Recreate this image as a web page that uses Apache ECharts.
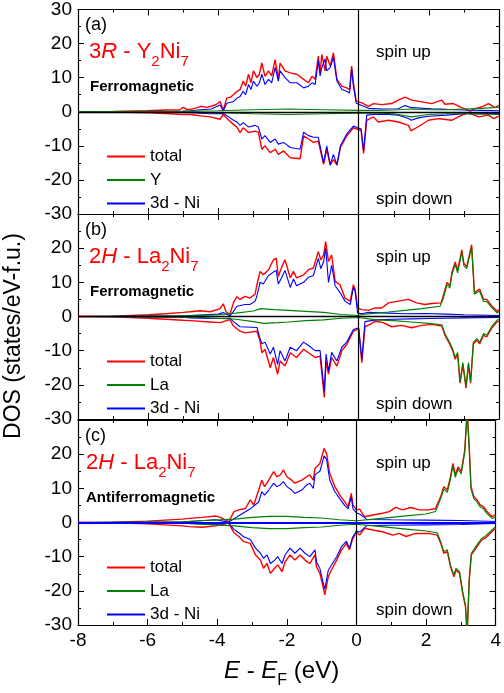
<!DOCTYPE html>
<html>
<head>
<meta charset="utf-8">
<script src="https://cdn.jsdelivr.net/npm/echarts@6/dist/echarts.min.js"></script>
<style>
  html, body { margin: 0; padding: 0; background: #fff; }
  #chart { width: 504px; height: 693px; }
</style>
</head>
<body>
<div id="chart"></div>
<script>
// energy ticks / DOS ticks
const xTicks = [-8, -6, -4, -2, 0, 2, 4]
const yTicks = [-30, -20, -10, 0, 10, 20, 30]

// panel (a) 3R-Y2Ni7 ferromagnetic, [E, DOS]
const aTotUp = [[-8,0],[-7,0.1],[-6,0.3],[-5.5,0.5],[-5.1,0.6],[-5.0,1.3],[-4.9,0.7],[-4.8,0.7],[-4.6,1.2],[-4.5,1.6],[-4.35,1.3],[-4.2,1.6],[-4.05,2.2],[-3.95,3],[-3.86,0.5],[-3.76,4],[-3.65,4.3],[-3.57,5],[-3.47,6],[-3.38,6.5],[-3.29,9],[-3.22,7.5],[-3.14,11],[-3.07,8.5],[-3.0,12],[-2.9,10],[-2.83,11],[-2.76,14.3],[-2.67,10.4],[-2.57,12],[-2.48,10.5],[-2.38,15.3],[-2.29,9.5],[-2.24,14.3],[-2.1,12],[-1.95,11.4],[-1.76,11],[-1.57,9.5],[-1.43,8.5],[-1.33,10.4],[-1.24,9.5],[-1.15,16.3],[-1.1,11.4],[-1.05,16.8],[-0.96,12],[-0.91,16.3],[-0.81,13.4],[-0.72,17.3],[-0.62,9.5],[-0.48,7.5],[-0.34,7],[-0.26,6.5],[-0.2,13.4],[-0.15,8.5],[-0.07,3.1],[0.09,2.6],[0.28,1.6],[0.42,2.4],[0.66,2.1],[0.94,2.4],[1.13,3.4],[1.32,4.3],[1.51,3.4],[1.8,2.9],[2.08,2.4],[2.37,3.4],[2.46,2.2],[2.7,2.4],[2.94,1.2],[3.18,0.2],[3.32,0.9],[3.51,1.4],[3.7,2.4],[3.89,1.2],[4,1.9]]
const aTotDn = [[-8,0],[-7,-0.1],[-6,-0.3],[-5.5,-0.5],[-5.0,-0.8],[-4.8,-0.8],[-4.5,-1.2],[-4.23,-1.5],[-3.95,-2.2],[-3.86,-0.8],[-3.7,-2.5],[-3.57,-3.7],[-3.47,-4.5],[-3.38,-6.1],[-3.29,-4.7],[-3.14,-6.1],[-2.95,-5.7],[-2.86,-6],[-2.76,-11],[-2.67,-10],[-2.52,-12],[-2.38,-11],[-2.29,-12.5],[-2.14,-11.5],[-1.95,-13.5],[-1.67,-13.8],[-1.57,-7.1],[-1.43,-8],[-1.29,-9],[-1.15,-8.6],[-1.0,-15.4],[-0.91,-11],[-0.81,-15.7],[-0.72,-14],[-0.62,-15.7],[-0.52,-10.5],[-0.34,-7.1],[-0.15,-4.7],[0,-5.2],[0.07,-5.5],[0.14,-12.2],[0.23,-2.5],[0.42,-1.5],[0.56,-3],[0.85,-2.5],[1.13,-3],[1.42,-4],[1.49,-5.6],[1.7,-4.4],[1.99,-2.5],[2.27,-2],[2.65,-2.5],[2.94,-1],[3.13,-0.3],[3.42,-1.5],[3.7,-1],[3.85,-2],[4,-1.3]]
const aNiUp = [[-8,0],[-6,0.1],[-5,0.2],[-4.8,0.3],[-4.5,0.6],[-4.2,0.8],[-3.95,2],[-3.86,0.2],[-3.76,2.5],[-3.57,3],[-3.47,4],[-3.38,4.5],[-3.29,6],[-3.22,5],[-3.14,8],[-3.07,6.5],[-3.0,9],[-2.9,7.5],[-2.83,8.5],[-2.76,11],[-2.67,8],[-2.57,9.5],[-2.48,8.5],[-2.38,13],[-2.29,9],[-2.24,12],[-2.1,10],[-1.95,8.5],[-1.76,8.5],[-1.57,7],[-1.43,7.5],[-1.33,8.5],[-1.24,8],[-1.15,15],[-1.1,10.5],[-1.05,13],[-0.96,15.5],[-0.91,12],[-0.81,13],[-0.72,16],[-0.62,9],[-0.48,6.5],[-0.34,6],[-0.26,5.5],[-0.2,12.5],[-0.15,7.5],[-0.07,2.5],[0.09,1.8],[0.28,1.0],[0.66,0.8],[1.13,0.9],[1.32,1.8],[1.51,1.2],[2.08,0.9],[2.5,0.7],[3.0,0.5],[3.5,0.4],[4,0.3]]
const aNiDn = [[-8,0],[-6,-0.1],[-5,-0.2],[-4.8,-0.3],[-4.23,-0.6],[-3.86,-0.5],[-3.7,-1.5],[-3.57,-2.5],[-3.47,-3],[-3.38,-4],[-3.29,-3.2],[-3.14,-4.5],[-2.95,-4],[-2.86,-4.5],[-2.76,-8],[-2.67,-7],[-2.52,-9],[-2.38,-8],[-2.29,-9.5],[-2.14,-9],[-1.95,-10.5],[-1.67,-11],[-1.57,-6],[-1.43,-7],[-1.29,-7.5],[-1.15,-7.5],[-1.0,-15],[-0.91,-10],[-0.81,-15.5],[-0.72,-12.5],[-0.62,-15.5],[-0.52,-10],[-0.34,-6.5],[-0.15,-4.2],[0,-4.8],[0.07,-5],[0.14,-11.5],[0.23,-1.0],[0.42,-0.8],[0.85,-0.8],[1.13,-1],[1.42,-2],[1.5,-2.5],[1.7,-1.8],[2.0,-1.3],[2.5,-1.0],[3.0,-0.6],[3.5,-0.5],[4,-0.5]]
const aYUp = [[-8,0],[-5,0.1],[-4,0.3],[-3,0.6],[-2,0.8],[-1,0.6],[0,0.4],[0.5,0.4],[1,0.5],[1.5,0.8],[2,0.6],[2.5,0.6],[3,0.8],[3.5,1.0],[4,1.3]]
const aYDn = [[-8,0],[-5,-0.1],[-4,-0.3],[-3,-0.6],[-2,-0.8],[-1,-0.6],[0,-0.4],[0.5,-0.4],[1,-0.6],[1.5,-1.5],[2,-0.8],[2.5,-0.6],[3,-0.6],[3.5,-0.7],[4,-0.8]]

// panel (b) 2H-La2Ni7 ferromagnetic
const bTotUp = [[-8,0],[-7,0.1],[-6,0.5],[-5.5,0.8],[-5,1.2],[-4.8,1.4],[-4.52,1.7],[-4.23,1.4],[-3.95,2.3],[-3.86,3.7],[-3.78,1.4],[-3.67,0.6],[-3.57,4],[-3.47,5.8],[-3.38,5],[-3.24,5.9],[-3.1,5.4],[-2.95,6.6],[-2.9,9.3],[-2.81,13.2],[-2.72,12.2],[-2.57,13.7],[-2.43,16.6],[-2.35,17.1],[-2.29,11.7],[-2.19,14.6],[-2.1,16.6],[-1.95,11.3],[-1.86,13.2],[-1.77,11.3],[-1.57,12.2],[-1.43,13.7],[-1.29,14.2],[-1.15,19],[-1.08,16.6],[-1.0,18],[-0.94,21.9],[-0.86,16.1],[-0.77,18],[-0.67,10.3],[-0.53,9.3],[-0.39,5.4],[-0.24,4.5],[-0.15,9.3],[-0.1,7.9],[-0.03,2.5],[0.09,2],[0.28,1.8],[0.47,2.5],[0.66,2.5],[0.85,4.0],[1.13,4.5],[1.42,5],[1.65,4.0],[1.89,3.5],[2.08,3.8],[2.35,4.0],[2.42,6.4],[2.52,10],[2.6,9],[2.66,13],[2.75,16],[2.82,13.5],[2.94,19.5],[3.0,15.5],[3.08,14.6],[3.22,21],[3.3,7],[3.37,7.5],[3.45,8],[3.56,5],[3.65,5],[3.8,3],[3.95,1.5],[4,2]]
const bTotDn = [[-8,0],[-7,-0.1],[-6,-0.5],[-5.5,-0.8],[-5,-1.1],[-4.8,-1.2],[-4.23,-1.6],[-3.95,-1.8],[-3.67,-0.9],[-3.57,-2.8],[-3.38,-4.3],[-3.24,-4.8],[-2.9,-4.3],[-2.81,-7.2],[-2.76,-10.6],[-2.67,-9.6],[-2.52,-15],[-2.43,-12],[-2.31,-16.9],[-2.24,-13],[-2.1,-14.5],[-1.95,-10.6],[-1.77,-12],[-1.57,-9.6],[-1.43,-10.6],[-1.24,-12],[-1.1,-11.6],[-0.98,-23.7],[-0.93,-13],[-0.86,-16.9],[-0.77,-12],[-0.62,-14.5],[-0.48,-10],[-0.34,-8.2],[-0.15,-4.3],[0,-3.6],[0.05,-4],[0.09,-13.5],[0.18,-3],[0.32,-2.3],[0.47,-1.4],[0.7,-1.8],[0.94,-3],[1.23,-2.6],[1.51,-3.3],[1.8,-2.6],[2.08,-2.3],[2.37,-2.8],[2.46,-5.5],[2.6,-8.2],[2.68,-10],[2.75,-12.5],[2.82,-11],[2.89,-19.5],[2.97,-14],[3.06,-21],[3.13,-14],[3.19,-19.5],[3.27,-8],[3.37,-7],[3.45,-8],[3.56,-5.5],[3.65,-6],[3.8,-3.3],[3.95,-1.5],[4,-1.4]]
const bNiUp = [[-8,0],[-6,0.1],[-5,0.2],[-4.8,0.3],[-4.0,0.7],[-3.86,1.2],[-3.67,0.2],[-3.57,1.5],[-3.47,3],[-3.24,3.5],[-3.1,3.5],[-2.95,4.5],[-2.9,6],[-2.81,10],[-2.72,9.5],[-2.57,12],[-2.43,13],[-2.35,13.5],[-2.29,9.5],[-2.19,11.5],[-2.1,13.5],[-1.95,8.5],[-1.86,11],[-1.77,9],[-1.57,10],[-1.43,11.5],[-1.29,12],[-1.15,17],[-1.08,14],[-1.0,16],[-0.94,20],[-0.86,10],[-0.77,15],[-0.67,9],[-0.53,7],[-0.39,4.5],[-0.24,3.5],[-0.15,8.5],[-0.1,7.5],[-0.03,1],[0.09,0.8],[0.28,1.2],[0.85,1.0],[1.3,0.8],[1.9,0.9],[2.5,0.7],[3,0.5],[4,0.3]]
const bNiDn = [[-8,0],[-6,-0.1],[-5,-0.2],[-4.8,-0.4],[-4.23,-0.6],[-3.67,-0.5],[-3.57,-1.5],[-3.38,-3],[-2.9,-3.2],[-2.81,-6.5],[-2.76,-8],[-2.67,-7.5],[-2.52,-11],[-2.43,-9],[-2.31,-14],[-2.24,-10],[-2.1,-13],[-1.95,-9],[-1.77,-10],[-1.57,-7.5],[-1.43,-8.5],[-1.24,-10],[-1.1,-10],[-0.98,-22],[-0.93,-11],[-0.86,-16],[-0.77,-10.5],[-0.62,-13],[-0.48,-9],[-0.34,-7.5],[-0.15,-3.8],[0,-3.3],[0.05,-3.5],[0.09,-12.5],[0.18,-1.5],[0.5,-1.0],[1,-0.8],[1.5,-0.7],[2,-0.6],[3,-0.4],[4,-0.3]]
const bLaUp = [[-8,0],[-5,0.2],[-4,0.5],[-3.5,1.0],[-3,1.6],[-2.8,2.3],[-2.4,2],[-2,1.8],[-1.5,1.5],[-1,1.2],[-0.5,0.6],[0,0.3],[0.09,0.6],[0.5,1.0],[0.85,1.3],[1.32,1.8],[1.8,2.3],[2.32,3.0],[2.42,5.5],[2.52,9.3],[2.6,8.3],[2.66,12.3],[2.75,15.2],[2.82,12.8],[2.94,18.8],[3.0,14.8],[3.08,14],[3.22,20.3],[3.3,6.5],[3.37,7],[3.45,7.4],[3.56,4.4],[3.65,4.4],[3.8,2.5],[3.95,1.0],[4,1.5]]
const bLaDn = [[-8,0],[-5,-0.2],[-4.5,-0.3],[-3.5,-0.8],[-3,-1.5],[-2.7,-2.0],[-2.3,-1.8],[-2,-1.6],[-1.5,-1.2],[-1,-1.0],[-0.5,-0.5],[0,-0.3],[0.5,-1],[1,-1.2],[1.5,-1.6],[2,-2.0],[2.37,-2.4],[2.46,-5],[2.6,-7.7],[2.68,-9.5],[2.75,-12],[2.82,-10.5],[2.89,-19],[2.97,-13.5],[3.06,-20.5],[3.13,-13.5],[3.19,-19],[3.27,-7.5],[3.37,-6.5],[3.45,-7.5],[3.56,-5],[3.65,-5.5],[3.8,-2.8],[3.95,-1.0],[4,-0.9]]

// panel (c) 2H-La2Ni7 antiferromagnetic
const cTotUp = [[-8,0],[-7,0.1],[-6,0.4],[-5.5,0.7],[-5,1.0],[-4.8,1.2],[-4.43,1.5],[-4.05,1.9],[-3.9,1.5],[-3.76,0.7],[-3.67,0.2],[-3.52,3.2],[-3.38,3.7],[-3.19,4.1],[-3.05,6.6],[-2.95,5.1],[-2.81,9.5],[-2.72,12.4],[-2.64,10.5],[-2.52,12.4],[-2.38,14.9],[-2.29,13.4],[-2.19,13.9],[-2.1,15.4],[-2.0,13.4],[-1.86,12.4],[-1.77,11.5],[-1.57,12.4],[-1.43,13.4],[-1.34,13.9],[-1.24,12.4],[-1.19,15.9],[-1.05,17.3],[-0.93,21.7],[-0.86,20.2],[-0.77,14.4],[-0.62,10.5],[-0.48,8],[-0.34,6.1],[-0.24,4.6],[-0.15,8.5],[-0.1,5.1],[0,3.7],[0.09,3.9],[0.23,1.7],[0.47,2.2],[0.75,2.7],[0.94,3.2],[1.13,4.4],[1.32,3.7],[1.56,4.4],[1.8,3.7],[2.08,3.7],[2.27,4.1],[2.42,7.6],[2.51,10.5],[2.61,9.5],[2.7,13.4],[2.77,17.3],[2.84,13.9],[2.92,16.3],[3.01,14.9],[3.11,21.2],[3.18,33],[3.24,22],[3.29,10.5],[3.37,7.6],[3.46,6.6],[3.56,5.1],[3.65,4.6],[3.75,3.2],[3.89,1.7],[4,2.2]]
const cTotDn = [[-8,0],[-7,-0.1],[-6,-0.4],[-5.5,-0.7],[-5,-1.0],[-4.8,-1.2],[-4.43,-1.4],[-4.05,-1],[-3.67,-0.2],[-3.52,-3],[-3.38,-4.1],[-3.24,-5.6],[-3.05,-6.1],[-2.9,-9.5],[-2.76,-11],[-2.67,-13.4],[-2.57,-12],[-2.47,-14.9],[-2.35,-13.4],[-2.26,-12.4],[-2.14,-14.4],[-2.05,-11.5],[-1.91,-9.5],[-1.77,-11],[-1.62,-9.5],[-1.48,-11],[-1.34,-12],[-1.19,-9.5],[-1.15,-12.9],[-1.05,-14.9],[-0.96,-18.8],[-0.91,-21.2],[-0.81,-15.9],[-0.72,-13.9],[-0.57,-11],[-0.43,-8],[-0.29,-6.1],[-0.2,-8],[-0.12,-5.1],[0,-2.7],[0.09,-3.7],[0.23,-1.7],[0.47,-2.2],[0.75,-2.7],[1.04,-3.7],[1.23,-3.2],[1.42,-4.1],[1.7,-3.2],[2.08,-3.2],[2.32,-3.7],[2.42,-6.1],[2.51,-9],[2.61,-8.5],[2.7,-12.9],[2.8,-15.9],[2.86,-13.9],[2.96,-14.9],[3.05,-20.7],[3.13,-24.6],[3.18,-33],[3.24,-16.8],[3.3,-9.5],[3.4,-8],[3.49,-6.6],[3.6,-5.1],[3.7,-4.6],[3.89,-2.7],[4,-1.7]]
const cNiUp = [[-8,0],[-6,0.1],[-5,0.2],[-4.8,0.3],[-4.05,0.8],[-3.67,0.1],[-3.38,2],[-3.05,4],[-2.81,6],[-2.72,9],[-2.64,8],[-2.52,9.5],[-2.38,11.5],[-2.29,10.5],[-2.19,11],[-2.1,12],[-2.0,10.5],[-1.86,9.5],[-1.77,8.5],[-1.57,9.5],[-1.43,11],[-1.34,11.5],[-1.24,10],[-1.19,14],[-1.05,15],[-0.93,19.5],[-0.86,18.5],[-0.77,12.5],[-0.62,9],[-0.48,7],[-0.34,5],[-0.24,4],[-0.15,7.5],[-0.1,4],[0,2.8],[0.09,2.5],[0.3,0.9],[1,0.8],[2,0.7],[3,0.6],[4,0.3]]
const cNiDn = [[-8,0],[-6,-0.1],[-5,-0.2],[-4.8,-0.3],[-4.05,-0.6],[-3.67,-0.2],[-3.52,-2],[-3.38,-3],[-3.24,-4.2],[-3.05,-5],[-2.9,-7.5],[-2.76,-9],[-2.67,-10.5],[-2.57,-9.5],[-2.47,-12],[-2.35,-11],[-2.26,-10],[-2.14,-12],[-2.05,-9.5],[-1.91,-7.5],[-1.77,-9],[-1.62,-7.5],[-1.48,-9],[-1.34,-10],[-1.19,-8],[-1.15,-11.5],[-1.05,-13.5],[-0.96,-17.5],[-0.91,-19.5],[-0.81,-14],[-0.72,-12.5],[-0.57,-10],[-0.43,-7],[-0.29,-5.5],[-0.2,-7.5],[-0.12,-4.5],[0,-2.5],[0.09,-2.8],[0.3,-0.9],[1,-0.8],[2,-0.7],[3,-0.6],[4,-0.3]]
const cLaUp = [[-8,0],[-5,0.2],[-4.5,0.5],[-3.5,1.0],[-3,1.5],[-2.5,1.8],[-2,1.8],[-1.5,1.5],[-1,1.3],[-0.5,0.8],[0,0.5],[0.5,1.0],[1,1.5],[1.5,2.0],[2,2.5],[2.27,3.2],[2.42,7],[2.51,9.8],[2.61,8.8],[2.7,12.7],[2.77,16.5],[2.84,13.2],[2.92,15.6],[3.01,14.2],[3.11,20.5],[3.18,32],[3.24,21.3],[3.29,9.8],[3.37,7],[3.46,6],[3.56,4.5],[3.65,4],[3.75,2.6],[3.89,1.2],[4,1.6]]
const cLaDn = [[-8,0],[-5,-0.2],[-4.5,-0.5],[-3.5,-1.0],[-3,-1.5],[-2.5,-1.8],[-2,-1.8],[-1.5,-1.5],[-1,-1.3],[-0.5,-0.8],[0,-0.5],[0.5,-1],[1,-1.5],[1.5,-2],[2,-2.5],[2.32,-3],[2.42,-5.6],[2.51,-8.5],[2.61,-8],[2.7,-12.4],[2.8,-15.4],[2.86,-13.4],[2.96,-14.4],[3.05,-20.2],[3.13,-24],[3.18,-32],[3.24,-16.3],[3.3,-9],[3.4,-7.5],[3.49,-6.1],[3.6,-4.6],[3.7,-4],[3.89,-2.2],[4,-1.2]]

const panels = [
  { tag: '(a)', phase: ['3', 'R', ' - Y', '2', 'Ni', '7'], order: 'Ferromagnetic', el: 'Y',
    tot: [aTotUp, aTotDn], ni: [aNiUp, aNiDn], re: [aYUp, aYDn] },
  { tag: '(b)', phase: ['2', 'H', ' - La', '2', 'Ni', '7'], order: 'Ferromagnetic', el: 'La',
    tot: [bTotUp, bTotDn], ni: [bNiUp, bNiDn], re: [bLaUp, bLaDn] },
  { tag: '(c)', phase: ['2', 'H', ' - La', '2', 'Ni', '7'], order: 'Antiferromagnetic', el: 'La',
    tot: [cTotUp, cTotDn], ni: [cNiUp, cNiDn], re: [cLaUp, cLaDn] },
]

const FONT = 'Liberation Sans, Arial, sans-serif'
const RED = '#ff0000', GREEN = '#008000', BLUE = '#0000ff'
const tops = [9, 214, 420]
const H = 205

const chart = echarts.init(document.getElementById('chart'), null, { renderer: 'canvas' })

const grid = [], xAxis = [], yAxis = [], series = [], legend = [], graphic = []

const axisCommon = {
  min: -8, max: 4, interval: 2,
  axisLine: { show: true, onZero: false, lineStyle: { color: '#000', width: 1.2 } },
  axisTick: { show: true, inside: true, length: 6, lineStyle: { color: '#000' } },
  minorTick: { show: true, splitNumber: 2, length: 3, lineStyle: { color: '#000' } },
  splitLine: { show: false },
}

// rich styles for graphic text (zrender uses fill)
const richFor = (c, big, small, pad) => ({
  n: { fontFamily: FONT, fontSize: big, lineHeight: big, verticalAlign: 'top', fill: c },
  i: { fontFamily: FONT, fontSize: big, fontStyle: 'italic', lineHeight: big, verticalAlign: 'top', fill: c },
  s: { fontFamily: FONT, fontSize: small, lineHeight: small, padding: [pad, 0, 0, 0], verticalAlign: 'top', fill: c },
})

panels.forEach((p, g) => {
  grid.push({ left: 78, right: 5, top: tops[g], height: H })
  xAxis.push(Object.assign({}, axisCommon, {
    type: 'value', gridIndex: g, position: 'bottom',
    axisLabel: { show: g === 2, fontFamily: FONT, fontSize: 19, color: '#000', margin: 6 },
  }))
  yAxis.push({
    type: 'value', gridIndex: g, position: 'left', min: -30, max: 30, interval: 10,
    axisLine: axisCommon.axisLine, axisTick: axisCommon.axisTick, minorTick: axisCommon.minorTick,
    splitLine: { show: false },
    axisLabel: {
      fontFamily: FONT, fontSize: 19, color: '#000', margin: 6,
      formatter: v => (g > 0 && v === 30) ? '' : String(v),
    },
  })

  const mk = (name, data, color, width, extra) => Object.assign({
    name, type: 'line', data, xAxisIndex: g, yAxisIndex: g,
    symbol: 'none', clip: true, animation: false,
    lineStyle: { color, width }, itemStyle: { color },
  }, extra || {})

  series.push(mk('total', p.tot[0], RED, 1.4, {
    markLine: {
      silent: true, symbol: 'none', label: { show: false }, animation: false,
      data: [
        { xAxis: 0, lineStyle: { color: '#000', width: 1.2, type: 'solid' } },
        { yAxis: 0, lineStyle: { color: g === 2 ? BLUE : '#000', width: g === 2 ? 1.8 : 1.4, type: 'solid' } },
      ],
    },
  }))
  series.push(mk('total', p.tot[1], RED, 1.4))
  series.push(mk('3d - Ni', p.ni[0], BLUE, 1.1))
  series.push(mk('3d - Ni', p.ni[1], BLUE, 1.1))
  series.push(mk(p.el, p.re[0], GREEN, 1.1))
  series.push(mk(p.el, p.re[1], GREEN, 1.1))

  const t = tops[g]
  legend.push({
    orient: 'vertical', left: 102, top: t + 134, icon: 'rect', itemWidth: 38, itemHeight: 2,
    itemGap: 6.5, data: ['total', p.el, '3d - Ni'], selectedMode: false,
    textStyle: { fontFamily: FONT, fontSize: 17, lineHeight: 15, color: '#000' },
  })

  graphic.push({ type: 'text', left: 85, top: t + 7,
    style: { text: p.tag, font: '18px ' + FONT, fill: '#000' } })
  graphic.push({ type: 'text', left: g === 2 ? 86 : 89, top: t + 32,
    style: {
      text: `{n|${p.phase[0]}}{i|${p.phase[1]}}{n|${p.phase[2]}}{s|${p.phase[3]}}{n|${p.phase[4]}}{s|${p.phase[5]}}`,
      rich: richFor(RED, 22, 15, 13),
    } })
  graphic.push({ type: 'text', left: g === 2 ? 86 : 90, top: t + 70,
    style: { text: p.order, font: 'bold 15px ' + FONT, fill: '#000' } })
  graphic.push({ type: 'text', left: 376, top: t + 34.5,
    style: { text: 'spin up', font: '17px ' + FONT, fill: '#000', textVerticalAlign: 'middle' } })
  graphic.push({ type: 'text', left: 376, top: t + 181.5,
    style: { text: 'spin down', font: '17px ' + FONT, fill: '#000', textVerticalAlign: 'middle' } })
})

// top and right frame axes, ticks only
panels.forEach((p, g) => {
  xAxis.push(Object.assign({}, axisCommon, {
    type: 'value', gridIndex: g, position: 'top', axisLabel: { show: false },
  }))
  yAxis.push({
    type: 'value', gridIndex: g, position: 'right', min: -30, max: 30, interval: 10,
    axisLine: axisCommon.axisLine, axisTick: axisCommon.axisTick, minorTick: axisCommon.minorTick,
    splitLine: { show: false }, axisLabel: { show: false },
  })
})

// axis titles
graphic.push({
  type: 'text', x: 14, y: 336, rotation: Math.PI / 2,
  style: { text: 'DOS (states/eV-f.u.)', font: '23px ' + FONT, fill: '#000',
    textAlign: 'center', textVerticalAlign: 'middle' },
})
graphic.push({
  type: 'text', left: 224, top: 659,
  style: { text: '{i|E}{n| - }{i|E}{s|F}{n| (eV)}', rich: richFor('#000', 24, 16, 14) },
})

chart.setOption({
  animation: false,
  backgroundColor: '#fff',
  textStyle: { fontFamily: FONT },
  grid, xAxis, yAxis, series, legend, graphic,
})
</script>
</body>
</html>
